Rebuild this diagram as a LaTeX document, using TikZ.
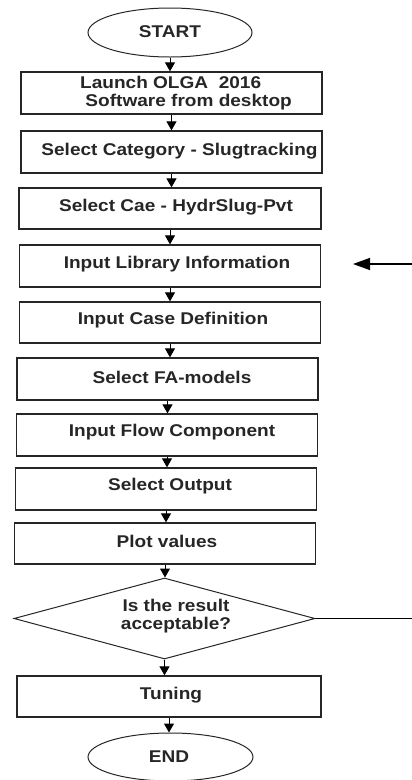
\documentclass[tikz,border=0pt]{standalone}
\usepackage{fontspec}
\setmainfont{Liberation Sans}[FakeStretch=1.12]
\usetikzlibrary{shapes.geometric,arrows.meta}
\begin{document}
\begin{tikzpicture}[x=1pt,y=-1pt,
  box/.style={draw=black!85,line width=1.3pt,minimum width=301pt,minimum height=42pt,inner sep=0pt},
  oval/.style={ellipse,draw=black!85,line width=1pt,minimum width=164pt,minimum height=49pt,inner sep=0pt},
  dia/.style={diamond,draw=black!85,line width=1pt,minimum width=301pt,minimum height=81pt,inner sep=0pt},
  txt/.style={font=\fontsize{17}{17.5}\selectfont\bfseries,text=black!85,inner sep=0pt,align=center},
  arr/.style={line width=1pt,-{Triangle[width=10pt,length=9pt]}}]
\useasboundingbox (0,0) rectangle (412,780);
% shapes
\node[oval] (start) at (170,32.5) {};
\node[box] (b1) at (171.5,93) {};
\node[box] (b2) at (171.5,152) {};
\node[box,minimum width=302pt,minimum height=41pt] (b3) at (170,208.5) {};
\node[box] (b4) at (170,266) {};
\node[box,minimum height=41pt] (b5) at (170,322.5) {};
\node[box] (b6) at (167.5,379) {};
\node[box] (b7) at (167,435) {};
\node[box] (b8) at (166,489) {};
\node[box,minimum height=41pt] (b9) at (165,543.5) {};
\node[dia] (d) at (164.5,618.5) {};
\node[box,minimum width=304pt,minimum height=41pt] (b10) at (169,696.5) {};
\node[oval,minimum width=165pt,minimum height=48pt] (end) at (170.5,757) {};
% texts
\node[txt] (tstart) at (170,32) {START};
\node[txt,align=left,anchor=west] (t1) at (80,93) {Launch OLGA\ \ 2016\\\ Software from desktop};
\node[txt] (t2) at (179.5,151) {Select Category - Slugtracking};
\node[txt] (t3) at (176,207.5) {Select Cae - HydrSlug-Pvt};
\node[txt] (t4) at (177,264) {Input Library Information};
\node[txt] (t5) at (173,320.5) {Input Case Definition};
\node[txt] (t6) at (172,377) {Select FA-models};
\node[txt] (t7) at (172,432.5) {Input Flow Component};
\node[txt] (t8) at (170,486.5) {Select Output};
\node[txt] (t9) at (167,541.5) {Plot values};
\node[txt] (td) at (176,616) {Is the result\\acceptable?};
\node[txt] (t10) at (171,695) {Tuning};
\node[txt] (tend) at (169,756.5) {END};
% connectors
\foreach \a/\b in {start/b1,b1/b2,b2/b3,b3/b4,b4/b5,b5/b6,b6/b7,b7/b8,b8/b9,b9/d,d/b10,b10/end}
  \draw[arr] (\a.south) -- (\a.south |- \b.north);
\coordinate (r1) at (412,618.5);
\coordinate (r2) at (412,264);
\draw[line width=1.4pt] (d.east) -- (r1);
\draw[line width=1.4pt,-{Triangle[width=12pt,length=17pt]}] (r2) -- (353,264);
\end{tikzpicture}
\end{document}
